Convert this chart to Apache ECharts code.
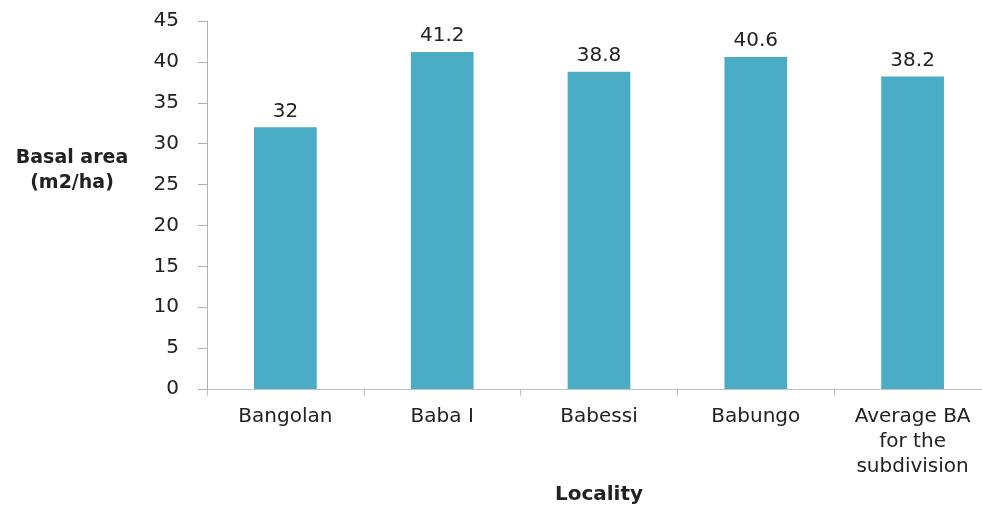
<!DOCTYPE html>
<html>
<head>
<meta charset="utf-8">
<script src="https://cdn.jsdelivr.net/npm/echarts@6/dist/echarts.min.js"></script>
<style>
  html, body { margin: 0; padding: 0; background: #fff; }
  #chart { width: 982px; height: 506px; }
</style>
</head>
<body>
<div id="chart"></div>
<script>
// Basal area per locality (m2/ha)
const localities = ['Bangolan', 'Baba I', 'Babessi', 'Babungo', 'Average BA\nfor the\nsubdivision'];
const basalArea = [32, 41.2, 38.8, 40.6, 38.2];
const yTicks = { min: 0, max: 45, step: 5 };

const textColor = '#222222';
const fontFamily = '"DejaVu Sans", sans-serif';

const chart = echarts.init(document.getElementById('chart'), null, { renderer: 'canvas' });

chart.setOption({
  animation: false,
  backgroundColor: '#ffffff',
  textStyle: { fontFamily: fontFamily },
  grid: { left: 207, right: -9, top: 21, bottom: 117, containLabel: false, outerBoundsMode: 'none' },
  xAxis: {
    type: 'category',
    data: localities,
    name: 'Locality',
    nameLocation: 'middle',
    nameGap: 96,
    nameTextStyle: { color: textColor, fontSize: 20, fontWeight: 'bold', fontFamily: fontFamily, verticalAlign: 'top' },
    axisLine: { lineStyle: { color: '#c0c0c0', width: 1 } },
    axisTick: { show: true, length: 7, lineStyle: { color: '#c0c0c0' } },
    axisLabel: { color: textColor, fontSize: 20, lineHeight: 25, margin: 15, fontFamily: fontFamily, interval: 0 }
  },
  yAxis: {
    type: 'value',
    min: yTicks.min,
    max: yTicks.max,
    interval: yTicks.step,
    axisLine: { show: true, lineStyle: { color: '#b0b0b0', width: 1 } },
    axisTick: { show: true, length: 9, lineStyle: { color: '#b0b0b0' } },
    splitLine: { show: false },
    axisLabel: { color: textColor, fontSize: 20, margin: 28, fontFamily: fontFamily }
  },
  graphic: [{
    type: 'text',
    position: [72, 146],
    style: {
      text: 'Basal area\n(m2/ha)',
      fill: textColor,
      font: 'bold 19px ' + fontFamily,
      textAlign: 'center',
      lineHeight: 25
    }
  }],
  series: [{
    type: 'bar',
    data: basalArea,
    barWidth: '40%',
    itemStyle: { color: '#4BACC6' },
    label: {
      show: true,
      position: 'top',
      distance: 6,
      color: textColor,
      fontSize: 20,
      fontFamily: fontFamily
    }
  }]
});
</script>
</body>
</html>
